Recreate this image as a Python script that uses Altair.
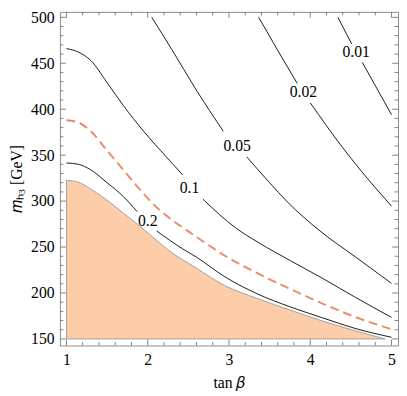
import altair as alt
import pandas as pd

# ---------------- data ----------------
# shaded (excluded) region: upper boundary, tan(beta) vs m_h3 [GeV]
fill_tb = [1.0, 1.15, 1.3, 1.5, 1.7, 1.9, 2.1, 2.25, 2.6, 2.95, 3.35, 3.75, 4.15, 4.55, 4.92]
fill_m = [322.6, 320.5, 313, 301, 287, 273, 258, 247, 227, 208, 194, 181.5, 169.5, 159, 150]
fill_floor = 150

# dashed orange curve
dash_tb = [1.0, 1.15, 1.3, 1.5, 1.7, 1.9, 2.1, 2.3, 2.5, 2.7, 2.95, 3.35, 3.75, 4.15, 4.55, 5.0]
dash_m = [388, 385.5, 376, 355, 334, 313, 294, 279.5, 267, 255, 240.5, 221.5, 204.5, 188.5, 174, 160.5]

# contour 0.2 (two pieces, split at the label)
c02_tb_a = [1.0, 1.15, 1.3, 1.5, 1.7, 1.87]
c02_m_a = [341.5, 340, 334, 320, 305, 288.5]
c02_tb_b = [2.11, 2.43, 2.6, 2.95, 3.35, 3.75, 4.15, 4.55, 5.0]
c02_m_b = [267.5, 248, 239, 217.6, 199, 185, 173, 161.5, 151.8]

# contour 0.1
c01_tb_a = [1.0, 1.15, 1.3, 1.5, 1.7, 1.95, 2.23, 2.43]
c01_m_a = [466, 462, 453, 429, 404, 376, 348, 328.5]
c01_tb_b = [2.68, 3.08, 3.36, 3.76, 4.16, 4.56, 5.0]
c01_m_b = [302, 271, 255, 235, 215.5, 195, 173.5]

# contour 0.05
c005_tb_a = [2.05, 2.3, 2.59, 2.93]
c005_m_a = [500, 464.5, 422, 376]
c005_tb_b = [3.22, 3.5, 3.72, 4.12, 4.56, 5.0]
c005_m_b = [348, 320, 299, 267.5, 239, 210.5]

# contour 0.02
c002_tb_a = [3.365, 3.6, 3.84]
c002_m_a = [500, 464, 428]
c002_tb_b = [4.0, 4.4, 4.7, 4.92, 5.0]
c002_m_b = [407, 358, 325, 302.5, 294.5]

# contour 0.01
c001_tb_a = [4.34, 4.51]
c001_m_a = [500, 471]
c001_tb_b = [4.64, 5.0]
c001_m_b = [451, 394]

# contour labels
label_text = ["0.2", "0.1", "0.05", "0.02", "0.01"]
label_tb = [2.0, 2.515, 3.10, 3.915, 4.566]
label_m = [278.5, 314.5, 359.5, 419, 461.8]

# axis ticks
x_major = [1, 2, 3, 4, 5]
x_minor = [1.2, 1.4, 1.6, 1.8, 2.2, 2.4, 2.6, 2.8, 3.2, 3.4, 3.6, 3.8, 4.2, 4.4, 4.6, 4.8]
y_major = [150, 200, 250, 300, 350, 400, 450, 500]
y_minor = [160, 170, 180, 190, 210, 220, 230, 240, 260, 270, 280, 290, 310, 320, 330, 340,
           360, 370, 380, 390, 410, 420, 430, 440, 460, 470, 480, 490]

# ---------------- tables ----------------
fill_df = pd.DataFrame({"x": fill_tb, "y": fill_m})
dash_df = pd.DataFrame({"x": dash_tb, "y": dash_m})

pieces = [
    ("0.2a", c02_tb_a, c02_m_a), ("0.2b", c02_tb_b, c02_m_b),
    ("0.1a", c01_tb_a, c01_m_a), ("0.1b", c01_tb_b, c01_m_b),
    ("0.05a", c005_tb_a, c005_m_a), ("0.05b", c005_tb_b, c005_m_b),
    ("0.02a", c002_tb_a, c002_m_a), ("0.02b", c002_tb_b, c002_m_b),
    ("0.01a", c001_tb_a, c001_m_a), ("0.01b", c001_tb_b, c001_m_b),
]
rows = []
for seg, xs_, ys_ in pieces:
    for i, (xv, yv) in enumerate(zip(xs_, ys_)):
        rows.append({"seg": seg, "i": i, "x": xv, "y": yv})
cont_df = pd.DataFrame(rows)
lab_df = pd.DataFrame({"t": label_text, "x": label_tb, "y": label_m})

xt_maj_df = pd.DataFrame({"x": x_major})
xt_min_df = pd.DataFrame({"x": x_minor})
yt_maj_df = pd.DataFrame({"y": y_major})
yt_min_df = pd.DataFrame({"y": y_minor})

# ---------------- styling ----------------
SERIF = "Liberation Serif"
GRAY = "#8a8a8a"
TICK = "#808080"
FILL = "#FDCCA8"
DASH = "#E88E68"
X_DOM = [0.92, 5.08]
Y_DOM = [142.9, 505.9]
W, H = 345, 340.4
MAJ, MIN = 6, 3.5

xs = alt.Scale(domain=X_DOM, nice=False, zero=False)
ys = alt.Scale(domain=Y_DOM, nice=False, zero=False)

x_axis = alt.Axis(orient="bottom", values=x_major, ticks=False, domain=False, grid=False,
                  labelFont=SERIF, labelFontSize=16, labelColor="black", labelPadding=6,
                  labelFlush=False, labelOverlap=False,
                  title="tan 𝛽", titleFont=SERIF, titleFontSize=16, titleFontWeight="normal",
                  titleColor="black", titlePadding=8)
y_axis = alt.Axis(orient="left", values=y_major, ticks=False, domain=False, grid=False,
                  labelFont=SERIF, labelFontSize=16, labelColor="black", labelPadding=6,
                  labelFlush=False, labelOverlap=False,
                  title="𝑚ₕ₃ [GeV]", titleFont=SERIF, titleFontSize=16, titleFontWeight="normal",
                  titleColor="black", titlePadding=6)

X = alt.X("x:Q", scale=xs, axis=x_axis)
Y = alt.Y("y:Q", scale=ys, axis=y_axis)

area = alt.Chart(fill_df).mark_area(
    color=FILL, opacity=1, stroke="#a0a0a0", strokeWidth=1, interpolate="monotone"
).encode(x=X, y=Y, y2=alt.datum(fill_floor))

dashed = alt.Chart(dash_df).mark_line(
    color=DASH, strokeWidth=2, strokeDash=[9, 5], interpolate="monotone"
).encode(x=X, y=Y)

lines = alt.Chart(cont_df).mark_line(
    color="#1a1a1a", strokeWidth=1, interpolate="monotone"
).encode(x=X, y=Y, detail="seg:N", order="i:Q")

labels = alt.Chart(lab_df).mark_text(
    font=SERIF, fontSize=16, color="black", align="center", baseline="middle"
).encode(x=X, y=Y, text="t:N")


def xticks(df, length):
    base = alt.Chart(df).mark_rule(color=TICK, strokeWidth=1)
    bottom = base.encode(x=X, y=alt.value(H), y2=alt.value(H - length))
    top = base.encode(x=X, y=alt.value(0), y2=alt.value(length))
    return [bottom, top]


def yticks(df, length):
    base = alt.Chart(df).mark_rule(color=TICK, strokeWidth=1)
    left = base.encode(y=Y, x=alt.value(0), x2=alt.value(length))
    right = base.encode(y=Y, x=alt.value(W), x2=alt.value(W - length))
    return [left, right]


tick_layers = (xticks(xt_maj_df, MAJ) + xticks(xt_min_df, MIN)
               + yticks(yt_maj_df, MAJ) + yticks(yt_min_df, MIN))

chart = alt.layer(area, *tick_layers, dashed, lines, labels).properties(
    width=W, height=H,
    autosize=alt.AutoSizeParams(type="none"),
    padding={"left": 53, "top": 0, "right": 1, "bottom": 47.6},
).configure_view(
    stroke=GRAY, strokeWidth=1
)

chart.save("out.html", embed_options={"renderer": "svg", "actions": False})
